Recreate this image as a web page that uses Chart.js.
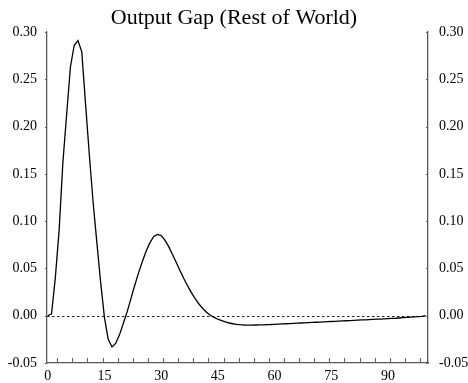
<!DOCTYPE html>
<html>
<head>
<meta charset="utf-8">
<script src="https://cdn.jsdelivr.net/npm/chart.js@4/dist/chart.umd.min.js"></script>
<style>
  html, body { margin: 0; padding: 0; background: #ffffff; }
  #wrap { width: 468px; height: 383px; }
</style>
</head>
<body>
<div id="wrap"><canvas id="gap"></canvas></div>
<script>
// Impulse response of the output gap, periods 0..100
const periods = Array.from({ length: 101 }, (_, i) => i);
const outputGap = [
  0.0000, 0.0020, 0.0400, 0.0900, 0.1620, 0.2130, 0.2630, 0.2860, 0.2910, 0.2790,
  0.2240, 0.1700, 0.1200, 0.0770, 0.0350, -0.0020, -0.0250, -0.0330, -0.0290, -0.0200,
  -0.0080, 0.0040, 0.0180, 0.0320, 0.0450, 0.0570, 0.0680, 0.0770, 0.0835, 0.0860,
  0.0848, 0.0800, 0.0730, 0.0648, 0.0562, 0.0476, 0.0393, 0.0315, 0.0244, 0.0180,
  0.0124, 0.0076, 0.0037, 0.0005, -0.0018, -0.0037, -0.0053, -0.0066, -0.0077, -0.0085,
  -0.0091, -0.0095, -0.0098, -0.0099, -0.0099, -0.0098, -0.0097, -0.0096, -0.0094, -0.0093,
  -0.0091, -0.0089, -0.0087, -0.0085, -0.0083, -0.0081, -0.0079, -0.0077, -0.0075, -0.0073,
  -0.0071, -0.0069, -0.0067, -0.0065, -0.0063, -0.0061, -0.0059, -0.0057, -0.0055, -0.0053,
  -0.0051, -0.0049, -0.0047, -0.0045, -0.0043, -0.0041, -0.0039, -0.0037, -0.0035, -0.0033,
  -0.0031, -0.0029, -0.0027, -0.0024, -0.0021, -0.0018, -0.0015, -0.0012, -0.0009, -0.0006,
  0.0002
];
const xTickValues = [0, 15, 30, 45, 60, 75, 90];
const xMinorTicks = [2.5, 6.5, 10.5, 14.5, 18.5, 22.5, 26.5, 30.5, 34.5, 38.5, 42.5, 46.5, 50.5,
  54.5, 58.5, 62.5, 66.5, 70.5, 74.5, 78.5, 82.5, 86.5, 90.5, 94.5, 98.5];
const yTickValues = [-0.05, 0.00, 0.05, 0.10, 0.15, 0.20, 0.25, 0.30];
const titleText = 'Output Gap (Rest of World)';

const serif = '"Liberation Serif", "Times New Roman", Times, serif';
const axisColor = '#5a5a5a';

// Dotted zero line plus the small tick marks along the frame
const framePlugin = {
  id: 'frameMarks',
  beforeDatasetsDraw(chart) {
    const { ctx, chartArea, scales } = chart;
    const y0 = scales.y.getPixelForValue(0);
    ctx.save();
    ctx.strokeStyle = '#222222';
    ctx.lineWidth = 1;
    ctx.setLineDash([2.5, 2.5]);
    ctx.beginPath();
    ctx.moveTo(chartArea.left, Math.round(y0) + 0.5);
    ctx.lineTo(chartArea.right, Math.round(y0) + 0.5);
    ctx.stroke();
    ctx.restore();
  },
  afterDraw(chart) {
    const { ctx, chartArea, scales } = chart;
    ctx.save();
    ctx.strokeStyle = axisColor;
    ctx.lineWidth = 1;
    ctx.beginPath();
    xMinorTicks.forEach(v => {
      const px = Math.round(scales.x.getPixelForValue(v)) + 0.5;
      ctx.moveTo(px, chartArea.bottom);
      ctx.lineTo(px, chartArea.bottom - 5);
    });
    yTickValues.forEach(v => {
      const py = Math.round(scales.y.getPixelForValue(v)) + 0.5;
      ctx.moveTo(chartArea.left, py);
      ctx.lineTo(chartArea.left - 2, py);
      ctx.moveTo(chartArea.right, py);
      ctx.lineTo(chartArea.right - 2, py);
    });
    ctx.stroke();
    ctx.restore();
  }
};

const yAxisCommon = {
  type: 'linear',
  min: -0.05,
  max: 0.30,
  afterBuildTicks(scale) { scale.ticks = yTickValues.map(v => ({ value: v })); },
  grid: { display: false, drawTicks: false },
  border: { display: true, color: axisColor, width: 1.3 },
  ticks: {
    color: '#000000',
    font: { family: serif, size: 14 },
    callback: v => Number(v).toFixed(2)
  }
};

new Chart(document.getElementById('gap'), {
  type: 'line',
  data: {
    datasets: [{
      data: periods.map((p, i) => ({ x: p, y: outputGap[i] })),
      borderColor: '#000000',
      borderWidth: 1.3,
      pointRadius: 0,
      tension: 0,
      fill: false
    }]
  },
  options: {
    responsive: true,
    maintainAspectRatio: false,
    animation: false,
    devicePixelRatio: 1,
    layout: { padding: { left: 0, right: 0, top: 0, bottom: 0 } },
    plugins: {
      legend: { display: false },
      tooltip: { enabled: false },
      title: {
        display: true,
        text: titleText,
        color: '#000000',
        font: { family: serif, size: 22, weight: 'normal' },
        padding: { top: 5, bottom: 0.6 }
      }
    },
    scales: {
      x: {
        type: 'linear',
        min: -0.2,
        max: 100.6,
        afterBuildTicks(scale) { scale.ticks = xTickValues.map(v => ({ value: v })); },
        afterFit(scale) { scale.height = 20; },
        grid: { display: false, drawTicks: false },
        border: { display: true, color: axisColor, width: 1.3 },
        ticks: {
          color: '#000000',
          padding: 5,
          maxRotation: 0,
          font: { family: serif, size: 14 },
          callback: v => String(v)
        }
      },
      y: Object.assign({}, yAxisCommon, {
        position: 'left',
        afterFit(scale) { scale.width = 47; },
        ticks: Object.assign({}, yAxisCommon.ticks, { padding: 10 })
      }),
      y2: Object.assign({}, yAxisCommon, {
        position: 'right',
        afterFit(scale) { scale.width = 40; },
        ticks: Object.assign({}, yAxisCommon.ticks, { padding: 11 })
      })
    }
  },
  plugins: [framePlugin]
});
</script>
</body>
</html>
